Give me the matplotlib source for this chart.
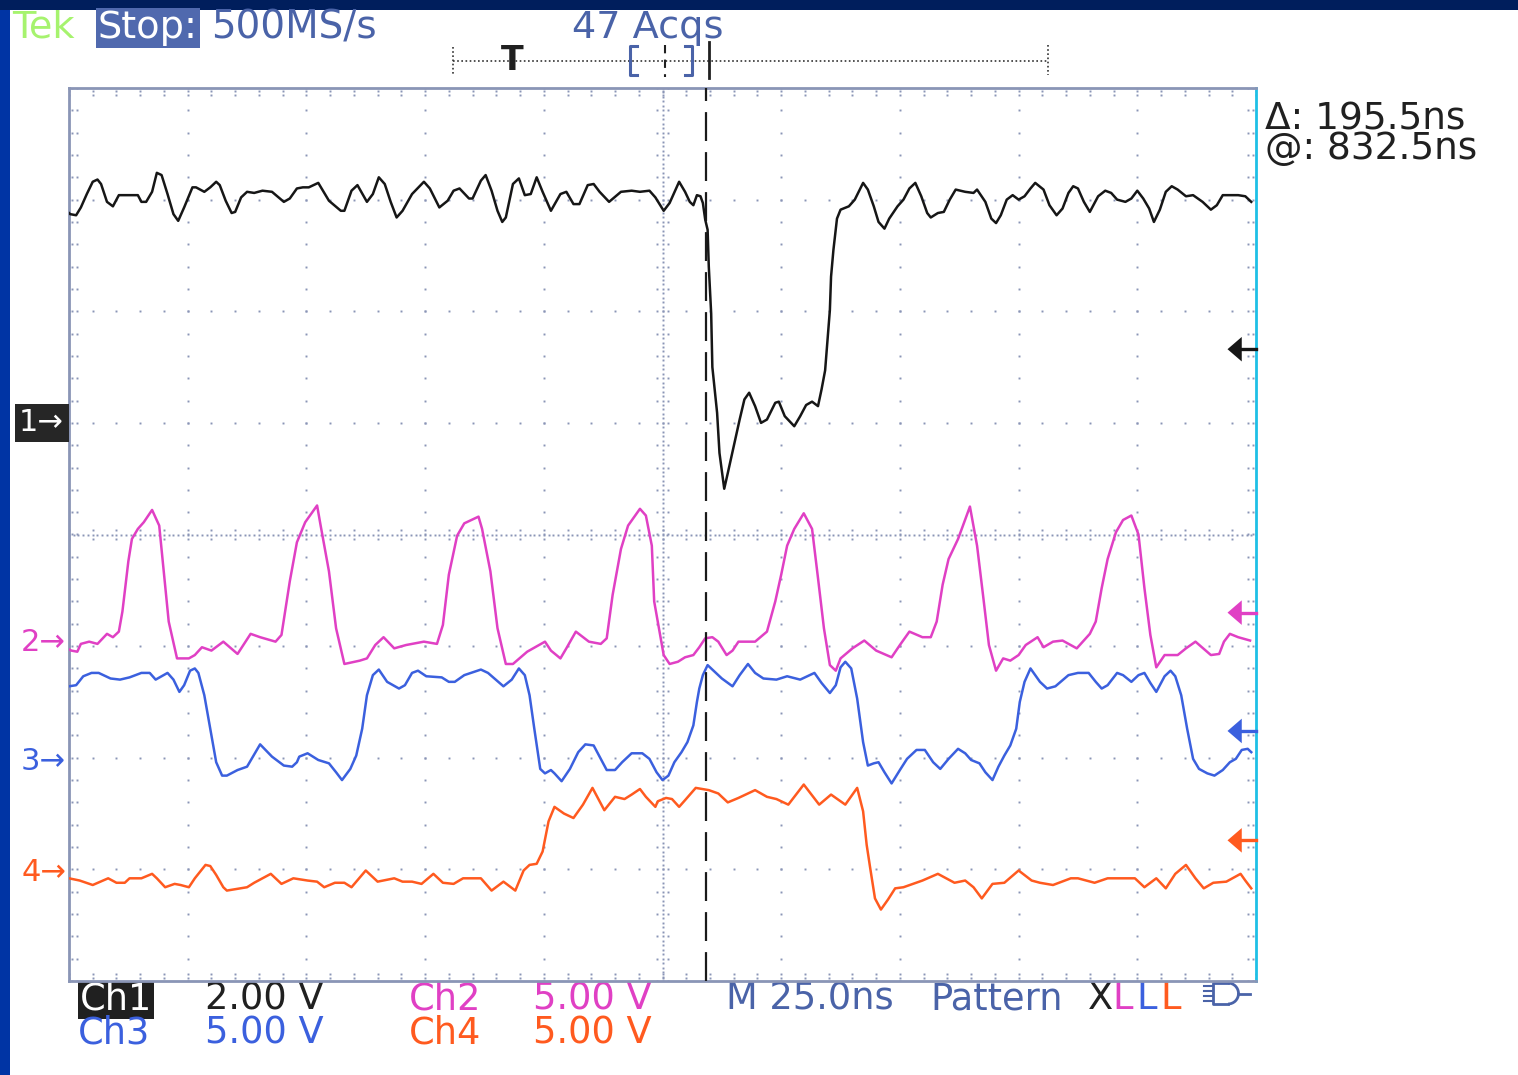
import matplotlib
matplotlib.use('Agg')
import matplotlib.pyplot as plt
import numpy as np
from matplotlib.patches import Rectangle, Arc

# Screen units: x in divisions (25 ns/div, 0..10), y in divisions from centre (-4..4)
ch1_points = [
    (0.00, 2.88), (0.01, 2.87), (0.06, 2.86), (0.10, 2.93), (0.15, 3.05), (0.20, 3.16), (0.24, 3.18),
    (0.27, 3.14), (0.32, 2.98), (0.37, 2.94), (0.42, 3.04), (0.58, 3.04), (0.61, 2.98), (0.65, 2.98),
    (0.70, 3.07), (0.74, 3.24), (0.78, 3.22), (0.83, 3.05), (0.88, 2.87), (0.92, 2.81), (0.97, 2.93),
    (1.04, 3.11), (1.07, 3.11), (1.14, 3.07), (1.19, 3.11), (1.24, 3.16), (1.27, 3.13), (1.32, 2.99),
    (1.37, 2.88), (1.40, 2.89), (1.45, 3.02), (1.50, 3.07), (1.56, 3.06), (1.63, 3.08), (1.71, 3.07),
    (1.81, 2.98), (1.86, 3.01), (1.92, 3.10), (1.97, 3.11), (2.02, 3.11), (2.10, 3.15), (2.19, 2.99),
    (2.29, 2.90), (2.32, 2.90), (2.38, 3.08), (2.43, 3.13), (2.51, 2.98), (2.56, 3.05), (2.61, 3.20),
    (2.66, 3.14), (2.71, 2.98), (2.76, 2.84), (2.81, 2.90), (2.89, 3.05), (2.99, 3.16), (3.04, 3.10),
    (3.12, 2.93), (3.19, 2.99), (3.24, 3.08), (3.29, 3.10), (3.37, 3.01), (3.40, 3.01), (3.47, 3.17),
    (3.51, 3.22), (3.56, 3.08), (3.61, 2.90), (3.65, 2.80), (3.68, 2.84), (3.71, 2.99), (3.74, 3.14),
    (3.79, 3.19), (3.84, 3.04), (3.89, 3.05), (3.94, 3.20), (3.99, 3.07), (4.06, 2.90), (4.14, 3.05),
    (4.19, 3.07), (4.25, 2.96), (4.30, 2.96), (4.37, 3.13), (4.42, 3.14), (4.47, 3.07), (4.55, 2.98),
    (4.65, 3.07), (4.74, 3.08), (4.81, 3.07), (4.89, 3.08), (4.94, 3.02), (5.01, 2.90), (5.06, 2.97),
    (5.14, 3.16), (5.19, 3.07), (5.23, 2.98), (5.26, 2.95), (5.29, 3.04), (5.32, 3.03), (5.34, 2.97),
    (5.36, 2.82), (5.38, 2.73), (5.39, 2.40), (5.41, 1.98), (5.42, 1.50), (5.46, 1.09), (5.48, 0.73),
    (5.52, 0.41), (5.55, 0.55), (5.60, 0.79), (5.65, 1.03), (5.69, 1.21), (5.73, 1.27), (5.78, 1.15),
    (5.83, 1.00), (5.88, 1.03), (5.95, 1.18), (5.98, 1.19), (6.03, 1.06), (6.11, 0.97), (6.16, 1.06),
    (6.21, 1.16), (6.26, 1.19), (6.31, 1.15), (6.34, 1.30), (6.37, 1.47), (6.39, 1.74), (6.41, 2.01),
    (6.42, 2.31), (6.44, 2.55), (6.47, 2.83), (6.50, 2.91), (6.57, 2.94), (6.62, 3.00), (6.69, 3.15),
    (6.73, 3.09), (6.78, 2.94), (6.82, 2.80), (6.87, 2.74), (6.91, 2.83), (6.98, 2.94), (7.03, 3.00),
    (7.08, 3.10), (7.13, 3.15), (7.18, 3.03), (7.23, 2.88), (7.26, 2.84), (7.32, 2.88), (7.37, 2.89),
    (7.42, 3.00), (7.47, 3.09), (7.55, 3.07), (7.62, 3.06), (7.65, 3.09), (7.72, 2.98), (7.77, 2.83),
    (7.81, 2.79), (7.85, 2.86), (7.90, 3.00), (7.95, 3.04), (8.00, 3.00), (8.05, 3.03), (8.10, 3.10),
    (8.14, 3.15), (8.21, 3.09), (8.26, 2.95), (8.32, 2.86), (8.37, 2.92), (8.42, 3.06), (8.46, 3.12),
    (8.50, 3.10), (8.55, 2.98), (8.60, 2.89), (8.67, 3.03), (8.73, 3.08), (8.78, 3.06), (8.83, 3.00),
    (8.90, 2.98), (8.95, 3.01), (9.00, 3.08), (9.05, 3.01), (9.10, 2.92), (9.14, 2.80), (9.19, 2.91),
    (9.24, 3.07), (9.29, 3.12), (9.34, 3.09), (9.41, 3.03), (9.47, 3.04), (9.55, 2.98), (9.62, 2.91),
    (9.67, 2.95), (9.72, 3.04), (9.85, 3.04), (9.91, 3.03), (9.96, 2.98),
]

ch2_points = [
    (0.00, -1.03), (0.02, -1.04), (0.07, -1.05), (0.10, -0.98), (0.17, -0.96), (0.24, -0.98),
    (0.32, -0.89), (0.37, -0.92), (0.42, -0.87), (0.45, -0.69), (0.50, -0.24), (0.53, -0.04),
    (0.58, 0.05), (0.63, 0.11), (0.70, 0.22), (0.76, 0.08), (0.79, -0.24), (0.84, -0.78),
    (0.91, -1.11), (1.01, -1.11), (1.06, -1.08), (1.12, -1.01), (1.20, -1.04), (1.30, -0.96),
    (1.42, -1.07), (1.53, -0.89), (1.61, -0.92), (1.74, -0.96), (1.79, -0.90), (1.86, -0.42),
    (1.92, -0.07), (1.99, 0.11), (2.09, 0.26), (2.12, 0.08), (2.19, -0.33), (2.25, -0.84),
    (2.32, -1.16), (2.45, -1.13), (2.51, -1.11), (2.58, -0.99), (2.65, -0.92), (2.74, -1.02),
    (2.84, -0.99), (2.99, -0.96), (3.10, -0.98), (3.15, -0.81), (3.20, -0.36), (3.27, -0.01),
    (3.33, 0.10), (3.45, 0.16), (3.48, 0.05), (3.55, -0.33), (3.61, -0.84), (3.68, -1.16),
    (3.74, -1.16), (3.86, -1.05), (4.01, -0.96), (4.06, -1.04), (4.14, -1.11), (4.19, -1.02),
    (4.27, -0.87), (4.38, -0.96), (4.48, -0.98), (4.53, -0.93), (4.58, -0.54), (4.65, -0.13),
    (4.71, 0.08), (4.81, 0.23), (4.86, 0.17), (4.91, -0.10), (4.93, -0.60), (4.98, -0.90),
    (5.01, -1.08), (5.06, -1.16), (5.13, -1.14), (5.19, -1.10), (5.26, -1.08), (5.31, -1.01),
    (5.36, -0.93), (5.42, -0.92), (5.47, -0.96), (5.54, -1.08), (5.59, -1.04), (5.64, -0.96),
    (5.78, -0.96), (5.88, -0.87), (5.95, -0.60), (6.00, -0.36), (6.05, -0.10), (6.11, 0.05),
    (6.19, 0.19), (6.26, 0.05), (6.31, -0.39), (6.36, -0.84), (6.41, -1.17), (6.46, -1.22),
    (6.50, -1.11), (6.60, -1.02), (6.70, -0.95), (6.80, -1.04), (6.93, -1.10), (7.00, -0.99),
    (7.08, -0.87), (7.19, -0.92), (7.26, -0.92), (7.31, -0.78), (7.36, -0.45), (7.41, -0.22),
    (7.49, -0.04), (7.59, 0.25), (7.65, -0.10), (7.70, -0.54), (7.75, -0.99), (7.81, -1.22),
    (7.87, -1.11), (7.93, -1.13), (8.00, -1.08), (8.06, -0.99), (8.16, -0.92), (8.21, -1.01),
    (8.29, -0.96), (8.37, -0.95), (8.49, -1.02), (8.60, -0.89), (8.65, -0.78), (8.70, -0.48),
    (8.75, -0.22), (8.82, 0.02), (8.88, 0.13), (8.95, 0.17), (9.01, 0.00), (9.06, -0.48),
    (9.11, -0.90), (9.16, -1.19), (9.23, -1.08), (9.34, -1.08), (9.41, -1.02), (9.49, -0.96),
    (9.62, -1.08), (9.69, -1.07), (9.73, -0.96), (9.78, -0.89), (9.85, -0.92), (9.95, -0.95),
]

ch3_points = [
    (0.00, -1.36), (0.06, -1.35), (0.12, -1.27), (0.19, -1.24), (0.25, -1.24), (0.35, -1.29),
    (0.43, -1.30), (0.51, -1.28), (0.61, -1.24), (0.68, -1.24), (0.73, -1.30), (0.83, -1.24),
    (0.88, -1.30), (0.93, -1.41), (0.97, -1.35), (1.02, -1.22), (1.06, -1.20), (1.09, -1.24),
    (1.14, -1.44), (1.19, -1.74), (1.24, -2.04), (1.29, -2.16), (1.33, -2.16), (1.42, -2.11),
    (1.50, -2.08), (1.61, -1.88), (1.71, -1.99), (1.81, -2.07), (1.88, -2.08), (1.92, -2.04),
    (1.94, -1.99), (2.01, -1.96), (2.10, -2.02), (2.19, -2.05), (2.25, -2.13), (2.30, -2.20),
    (2.37, -2.10), (2.42, -1.98), (2.47, -1.74), (2.51, -1.44), (2.56, -1.26), (2.61, -1.21),
    (2.68, -1.32), (2.78, -1.38), (2.83, -1.35), (2.89, -1.24), (2.94, -1.22), (3.01, -1.27),
    (3.14, -1.28), (3.20, -1.32), (3.25, -1.32), (3.33, -1.26), (3.47, -1.21), (3.53, -1.24),
    (3.66, -1.36), (3.73, -1.30), (3.79, -1.20), (3.84, -1.26), (3.88, -1.44), (3.92, -1.74),
    (3.97, -2.10), (4.01, -2.14), (4.06, -2.11), (4.09, -2.14), (4.15, -2.21), (4.22, -2.10),
    (4.29, -1.95), (4.35, -1.88), (4.42, -1.89), (4.47, -1.99), (4.53, -2.11), (4.60, -2.11),
    (4.66, -2.04), (4.74, -1.96), (4.83, -1.96), (4.89, -2.01), (4.95, -2.13), (5.00, -2.20),
    (5.05, -2.16), (5.10, -2.04), (5.16, -1.95), (5.21, -1.86), (5.26, -1.71), (5.29, -1.50),
    (5.31, -1.38), (5.34, -1.26), (5.38, -1.17), (5.44, -1.23), (5.50, -1.29), (5.59, -1.36),
    (5.65, -1.26), (5.72, -1.16), (5.78, -1.24), (5.85, -1.29), (5.96, -1.30), (6.05, -1.27),
    (6.16, -1.30), (6.28, -1.24), (6.34, -1.33), (6.41, -1.42), (6.46, -1.35), (6.50, -1.19),
    (6.54, -1.14), (6.59, -1.20), (6.64, -1.47), (6.69, -1.86), (6.73, -2.07), (6.78, -2.05),
    (6.82, -2.04), (6.87, -2.13), (6.93, -2.23), (7.00, -2.11), (7.06, -2.01), (7.14, -1.93),
    (7.21, -1.93), (7.28, -2.04), (7.34, -2.10), (7.41, -2.01), (7.49, -1.92), (7.55, -1.96),
    (7.60, -2.02), (7.67, -2.05), (7.72, -2.13), (7.78, -2.20), (7.83, -2.08), (7.88, -1.98),
    (7.93, -1.89), (7.98, -1.74), (8.01, -1.50), (8.05, -1.32), (8.10, -1.20), (8.18, -1.32),
    (8.24, -1.38), (8.31, -1.36), (8.42, -1.26), (8.50, -1.24), (8.59, -1.24), (8.65, -1.32),
    (8.70, -1.38), (8.75, -1.35), (8.83, -1.24), (8.88, -1.26), (8.95, -1.32), (9.01, -1.26),
    (9.06, -1.24), (9.11, -1.33), (9.16, -1.41), (9.23, -1.27), (9.28, -1.22), (9.32, -1.27),
    (9.37, -1.44), (9.42, -1.74), (9.47, -2.01), (9.52, -2.10), (9.59, -2.14), (9.65, -2.16),
    (9.72, -2.11), (9.78, -2.04), (9.83, -2.01), (9.88, -1.93), (9.93, -1.92), (9.96, -1.95),
]

ch4_points = [
    (0.00, -3.08), (0.09, -3.10), (0.20, -3.14), (0.33, -3.08), (0.40, -3.12), (0.47, -3.12),
    (0.51, -3.08), (0.61, -3.08), (0.70, -3.04), (0.74, -3.08), (0.81, -3.16), (0.89, -3.13),
    (0.94, -3.14), (1.01, -3.16), (1.06, -3.08), (1.15, -2.96), (1.19, -2.97), (1.24, -3.05),
    (1.30, -3.16), (1.33, -3.19), (1.50, -3.16), (1.56, -3.12), (1.70, -3.04), (1.79, -3.13),
    (1.89, -3.08), (2.01, -3.10), (2.09, -3.11), (2.15, -3.16), (2.24, -3.12), (2.32, -3.12),
    (2.38, -3.16), (2.50, -3.01), (2.60, -3.11), (2.74, -3.08), (2.81, -3.11), (2.89, -3.11),
    (2.97, -3.13), (3.07, -3.04), (3.15, -3.12), (3.24, -3.13), (3.32, -3.08), (3.40, -3.08),
    (3.47, -3.08), (3.56, -3.19), (3.66, -3.11), (3.76, -3.19), (3.83, -3.01), (3.88, -2.96),
    (3.94, -2.95), (3.99, -2.84), (4.04, -2.57), (4.09, -2.44), (4.17, -2.50), (4.25, -2.54),
    (4.33, -2.42), (4.41, -2.27), (4.47, -2.39), (4.51, -2.47), (4.60, -2.35), (4.68, -2.37),
    (4.74, -2.33), (4.81, -2.28), (4.86, -2.35), (4.94, -2.44), (4.96, -2.39), (5.03, -2.36),
    (5.08, -2.37), (5.14, -2.44), (5.19, -2.38), (5.28, -2.27), (5.39, -2.29), (5.47, -2.32),
    (5.55, -2.40), (5.64, -2.36), (5.78, -2.29), (5.88, -2.35), (5.96, -2.37), (6.06, -2.42),
    (6.19, -2.24), (6.32, -2.42), (6.42, -2.33), (6.54, -2.42), (6.64, -2.27), (6.69, -2.48),
    (6.72, -2.78), (6.75, -2.99), (6.79, -3.26), (6.84, -3.36), (6.90, -3.27), (6.96, -3.17),
    (7.03, -3.16), (7.19, -3.10), (7.32, -3.04), (7.46, -3.12), (7.55, -3.10), (7.62, -3.16),
    (7.69, -3.26), (7.78, -3.13), (7.88, -3.12), (8.00, -3.01), (8.11, -3.10), (8.18, -3.12),
    (8.29, -3.14), (8.44, -3.08), (8.50, -3.08), (8.64, -3.12), (8.75, -3.08), (8.90, -3.08),
    (8.98, -3.08), (9.06, -3.16), (9.16, -3.08), (9.24, -3.17), (9.32, -3.04), (9.41, -2.96),
    (9.49, -3.08), (9.56, -3.17), (9.64, -3.12), (9.75, -3.11), (9.87, -3.04), (9.91, -3.10),
    (9.96, -3.17),
]

channel_names = ['1', '2', '3', '4']
ground_levels = [1.00, -0.97, -2.03, -3.03]
trigger_levels = [1.66, -0.70, -1.76, -2.74]
scale_labels = ['2.00 V', '5.00 V', '5.00 V', '5.00 V']
cursor_pos = 5.37
colors = ['#161616', '#E040C4', '#3B60DE', '#FF5A1F']

TEXT_BLUE = '#4A63A8'
GRID = '#8A95B6'
FONT = 'DejaVu Sans'

fig = plt.figure(figsize=(15.18, 10.75), dpi=100)
fig.patch.set_facecolor('white')

# pixel-space overlay for the instrument furniture
deco = fig.add_axes([0, 0, 1, 1], zorder=0)
deco.set_xlim(0, 1518)
deco.set_ylim(1075, 0)
deco.axis('off')
deco.add_patch(Rectangle((0, 0), 1518, 10, color='#001E5C', lw=0))
deco.add_patch(Rectangle((0, 10), 10, 1065, color='#0034A4', lw=0))

def label(x, y, s, color, size=26.5, **kw):
    deco.text(x, y, s, color=color, fontsize=size, family=FONT, va='baseline', ha='left', **kw)

label(12, 38, 'Tek', '#A6F36E', size=27.5)
label(98, 38, 'Stop:', 'white', size=27.5, bbox=dict(boxstyle='square,pad=0.06', fc='#5069AE', ec='none'))
label(211, 38, '500MS/s', TEXT_BLUE, size=28)
label(572, 38, '47 Acqs', TEXT_BLUE, size=27.5)

# record bar
deco.plot([453, 1048], [61, 61], color='#333333', lw=1.2, ls=(0, (1, 1.5)))
deco.plot([453, 453], [47, 75], color='#333333', lw=1.2, ls=(0, (1, 1.5)))
deco.plot([1048, 1048], [45, 75], color='#333333', lw=1.2, ls=(0, (1, 1.5)))
deco.text(512, 60, 'T', color='#202020', fontsize=24, fontweight='bold', family=FONT, ha='center', va='center')
deco.plot([637, 630, 630, 637], [46, 46, 75, 75], color=TEXT_BLUE, lw=2.2)
deco.plot([685, 692, 692, 685], [46, 46, 75, 75], color=TEXT_BLUE, lw=2.2)
deco.plot([665, 665], [45, 77], color='#202020', lw=1.5, ls=(0, (4, 3)))
deco.plot([709, 709], [42, 78], color='#202020', lw=2)

# bottom status lines
label(80, 1009, 'Ch1', 'white', bbox=dict(boxstyle='square,pad=0.06', fc='#202020', ec='none'))
label(205, 1009, scale_labels[0], '#202020')
label(409, 1009, 'Ch2', colors[1])
label(533, 1009, scale_labels[1], colors[1])
label(78, 1043, 'Ch3', colors[2])
label(205, 1043, scale_labels[2], colors[2])
label(409, 1043, 'Ch4', colors[3])
label(533, 1043, scale_labels[3], colors[3])
label(726, 1009, 'M 25.0ns', TEXT_BLUE)
label(930, 1009, 'Pattern', TEXT_BLUE)
for x, ch, c in zip([1088, 1112, 1136, 1160], 'XLLL', ['#202020', colors[1], colors[2], colors[3]]):
    label(x, 1009, ch, c)

# AND gate glyph
for y in [986, 991, 996, 1001]:
    deco.plot([1204, 1213], [y, y], color=TEXT_BLUE, lw=1.5)
deco.plot([1228, 1213, 1213, 1228], [983, 983, 1004, 1004], color=TEXT_BLUE, lw=2)
deco.add_patch(Arc((1228, 993.5), 21, 21, theta1=-90, theta2=90, color=TEXT_BLUE, lw=2))
deco.plot([1238, 1250], [993.5, 993.5], color=TEXT_BLUE, lw=2)

# cursor readout
deco.text(1265, 101, '\u0394: 195.5ns\n@: 832.5ns', color='#202020', fontsize=27, family=FONT,
          va='top', ha='left', linespacing=0.78)

# scope graticule
ax = fig.add_axes([69 / 1518, 1 - 981 / 1075, (1256 - 69) / 1518, (981 - 88) / 1075], zorder=1)
ax.set_xlim(0, 10)
ax.set_ylim(-4, 4)
ax.set_xticks([])
ax.set_yticks([])
for side in ['left', 'top', 'bottom']:
    ax.spines[side].set_color(GRID)
    ax.spines[side].set_linewidth(2)
ax.spines['right'].set_color('#1EC0E6')
ax.spines['right'].set_linewidth(2)

dot = dict(ls='none', marker='s', ms=1.4, mew=0, color=GRID)
fine_y = np.arange(-4, 4.001, 0.2)
fine_x = np.arange(0, 10.001, 0.2)
for gx in [1, 2, 3, 4, 6, 7, 8, 9]:
    ax.plot(np.full_like(fine_y, gx), fine_y, **dot)
for gy in [-3, -2, -1, 1, 2, 3]:
    ax.plot(fine_x, np.full_like(fine_x, gy), **dot)
dense_x = np.arange(0, 10.001, 0.04)
dense_y = np.arange(-4, 4.001, 0.04)
ax.plot(dense_x, np.zeros_like(dense_x), **dot)
ax.plot(np.full_like(dense_y, 5), dense_y, **dot)
for off in [-0.04, 0.04]:
    ax.plot(fine_x, np.full_like(fine_x, off), **dot)
    ax.plot(np.full_like(fine_y, 5 + off * 10 / 8 * 111.6 / 118.7), fine_y, **dot)
for off in [0.025, 0.065]:
    ax.plot(np.full_like(fine_y, off), fine_y, **dot)
    ax.plot(np.full_like(fine_y, 10 - off), fine_y, **dot)
    ax.plot(fine_x, np.full_like(fine_x, -4 + off * 0.94), **dot)
    ax.plot(fine_x, np.full_like(fine_x, 4 - off * 0.94), **dot)

# traces
for pts, c in zip([ch1_points, ch2_points, ch3_points, ch4_points], colors):
    xs, ys = zip(*pts)
    ax.plot(xs, ys, color=c, lw=1.8, solid_joinstyle='round', zorder=3)

# cursor
ax.axvline(cursor_pos, color='#1A1A1A', lw=1.6, ls=(0, (13, 5)), zorder=4)

# ground markers
for name, lvl, c in zip(channel_names, ground_levels, colors):
    if name == '1':
        ax.annotate(name + '\u2192', xy=(0, lvl), xycoords=('axes fraction', 'data'),
                    xytext=(-5, 0), textcoords='offset pixels', ha='right', va='center',
                    fontsize=22, color='white', family=FONT, annotation_clip=False,
                    bbox=dict(boxstyle='square,pad=0.15', fc='#262626', ec='none'))
    else:
        ax.annotate(name + '\u2192', xy=(0, lvl), xycoords=('axes fraction', 'data'),
                    xytext=(-3, 0), textcoords='offset pixels', ha='right', va='center',
                    fontsize=22, color=c, family=FONT, annotation_clip=False)

# trigger level arrows
for lvl, c in zip(trigger_levels, colors):
    ax.plot([9.86, 10.0], [lvl, lvl], color=c, lw=2.4, zorder=5, clip_on=False)
    ax.fill([9.76, 9.88, 9.88], [lvl, lvl + 0.11, lvl - 0.11], color=c, lw=0, zorder=5)

fig.savefig('out.png', dpi=100)
